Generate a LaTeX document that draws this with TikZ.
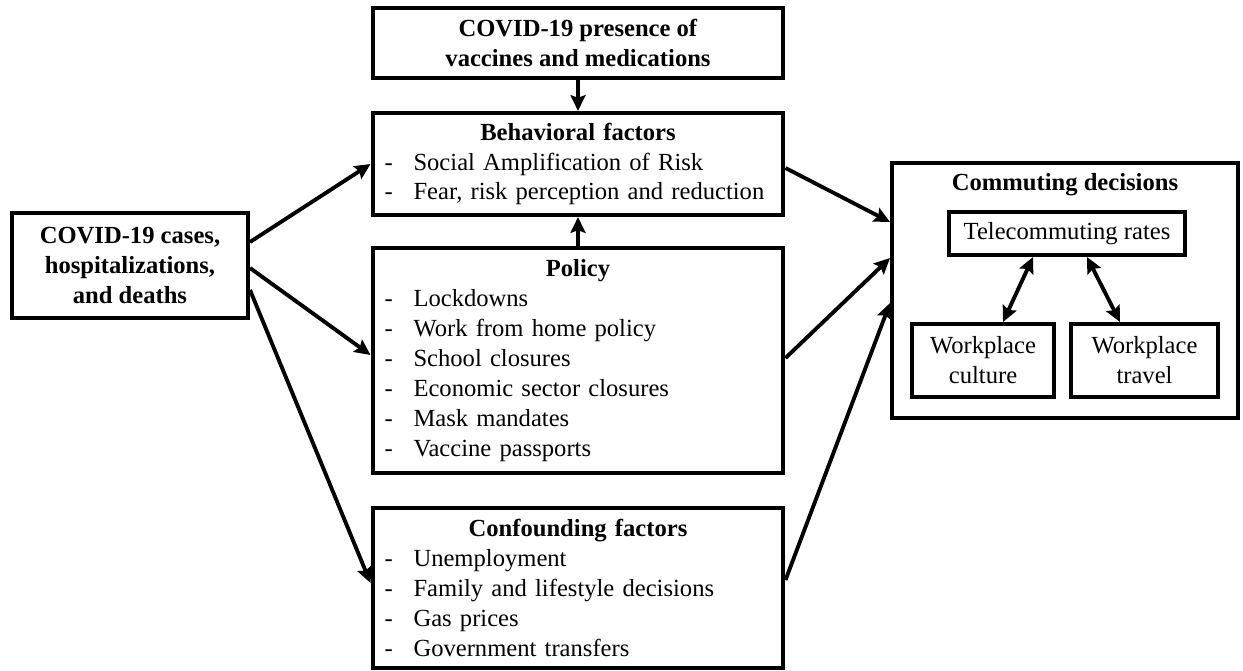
\documentclass[tikz,border=0pt]{standalone}
\usepackage{fontspec}
\setmainfont{Liberation Serif}
\usetikzlibrary{arrows.meta, positioning}

% one dashed item of a list box
\newcommand{\itm}[1]{\\\makebox[\hsize][l]{\makebox[0.58cm][l]{-}#1}}

\begin{document}
\begin{tikzpicture}[x=0.02cm, y=-0.02cm, line width=2.3pt,
    font=\fontsize{14}{17}\selectfont]
      \tikzstyle{box}=[draw, rectangle, inner sep=0pt, align=center]
      \tikzstyle{listbox}=[box, text width=7.74cm, inner xsep=0.24cm]
      \tikzstyle{link}=[-{Stealth[length=9pt, width=8.5pt, inset=1.5pt]}, line width=2.2pt]
      \tikzstyle{twoway}=[{Stealth[length=9pt, width=8.5pt, inset=1.5pt]}-{Stealth[length=9pt, width=8.5pt, inset=1.5pt]}, line width=2.2pt]

      \useasboundingbox (0,0) rectangle (1243,670);

      % Initialise each node and set its position.
      \node[box, minimum width=4.72cm, minimum height=2.1cm]
        (cases) at (130,265.5)      % cases box is on the left.
        {\textbf{COVID-19 cases,}\\\textbf{hospitalizations,}\\\textbf{and deaths}};
      \node[box, minimum width=8.2cm, minimum height=1.4cm]
        (vacc) at (578,43)          % vacc box is top middle.
        {\textbf{COVID-19 presence of}\\\textbf{vaccines and medications}};
      \node[listbox, minimum height=2.04cm]
        (behav) at (578,164)
        {\textbf{Behavioral factors}%
         \itm{Social Amplification of Risk}%
         \itm{Fear, risk perception and reduction}};
      \node[listbox, minimum height=4.5cm]
        (policy) at (578,360.5)
        {\textbf{Policy}%
         \itm{Lockdowns}%
         \itm{Work from home policy}%
         \itm{School closures}%
         \itm{Economic sector closures}%
         \itm{Mask mandates}%
         \itm{Vaccine passports}};
      \node[listbox, minimum height=3.2cm]
        (confound) at (578,588)     % confound box is bottom middle.
        {\textbf{Confounding factors}%
         \itm{Unemployment}%
         \itm{Family and lifestyle decisions}%
         \itm{Gas prices}%
         \itm{Government transfers}};

      % Commuting decisions and its inner boxes.
      \node[box, minimum width=6.92cm, minimum height=5.1cm]
        (commute) at (1065,290.5) {};
      \node
        (commtitle) at (1065,185)
        {\textbf{Commuting decisions}};
      \node[box, minimum width=4.72cm, minimum height=0.86cm]
        (telecom) at (1067,233.5)
        {Telecommuting rates};
      \node[box, minimum width=2.84cm, minimum height=1.46cm]
        (culture) at (983,360.5)
        {Workplace\\culture};
      \node[box, minimum width=2.94cm, minimum height=1.46cm]
        (travel) at (1144.5,360.5)
        {Workplace\\travel};

      % Draw the arrows between the boxes.
      \path[link]
        ([yshift=0.47cm]cases.east)
          edge (behav.west)
        ([yshift=-0.05cm]cases.east)
          edge ([yshift=0.11cm]policy.west)
        ([yshift=-0.49cm]cases.east)
          edge ([yshift=0.1cm]confound.west)
        (vacc.south)
          edge (behav.north)
        (policy.north)
          edge (behav.south)
        ([yshift=-0.08cm]behav.east)
          edge ([yshift=1.37cm]commute.west)
        ([yshift=0.05cm]policy.east)
          edge ([yshift=0.65cm]commute.west)
        ([yshift=0.16cm]confound.east)
          edge ([yshift=-0.25cm]commute.west);
      \path[twoway]
        ([xshift=-0.68cm]telecom.south)
          edge ([xshift=0.4cm]culture.north)
        ([xshift=0.4cm]telecom.south)
          edge ([xshift=-0.49cm]travel.north);
\end{tikzpicture}
\end{document}
